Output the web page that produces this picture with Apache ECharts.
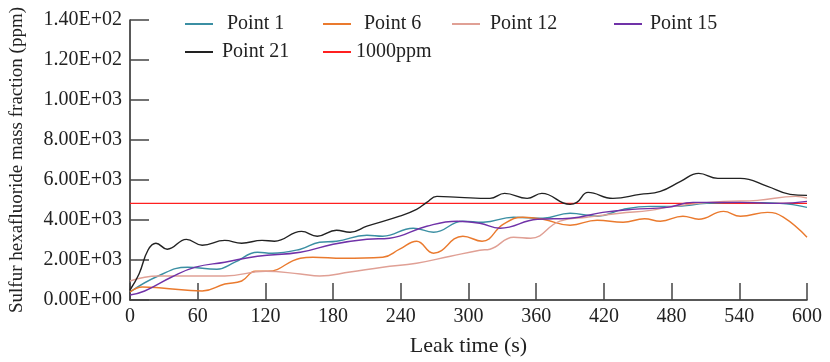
<!DOCTYPE html>
<html><head><meta charset="utf-8">
<script src="https://cdn.jsdelivr.net/npm/echarts@6/dist/echarts.min.js"></script>
<style>html,body{margin:0;padding:0;background:#fff}#c{width:830px;height:362px}</style>
</head><body><div id="c"></div>
<script>
const yTickLabels = ['0.00E+00','2.00E+03','4.00E+03','6.00E+03','8.00E+03','1.00E+03','1.20E+02','1.40E+02'];
const seriesNames = ['Point 1','Point 6','Point 12','Point 15','Point 21','1000ppm'];
const point1 = [[0,0.4],[25,1.2],[51,1.64],[77,1.54],[93,1.89],[113,2.39],[126,2.34],[151,2.54],[168,2.89],[183,2.94],[210,3.24],[224,3.19],[251,3.59],[269,3.39],[295,3.94],[313,3.89],[340,4.14],[366,4.09],[390,4.34],[414,4.19],[437,4.53],[461,4.68],[481,4.68],[511,4.83],[541,4.88],[576,4.83],[600,4.63]];
const point6 = [[0,0.4],[11,0.65],[28,0.6],[64,0.45],[84,0.8],[99,0.95],[111,1.44],[122,1.44],[151,2.09],[162,2.14],[189,2.09],[224,2.14],[239,2.54],[254,2.94],[269,2.34],[295,3.19],[312,2.94],[331,3.79],[348,4.14],[366,4.04],[390,3.74],[414,3.99],[437,3.89],[456,4.06],[470,3.94],[490,4.19],[504,4.04],[526,4.43],[541,4.19],[565,4.38],[579,4.14],[600,3.14]];
const point12 = [[0,0.95],[25,1.2],[55,1.2],[84,1.2],[120,1.44],[151,1.3],[168,1.2],[195,1.4],[224,1.64],[254,1.84],[284,2.19],[310,2.49],[319,2.54],[340,3.14],[355,3.09],[381,3.94],[405,4.14],[434,4.34],[461,4.48],[481,4.68],[526,4.93],[556,4.98],[590,5.18],[600,5.1]];
const point15 = [[0,0.25],[13,0.45],[37,1.15],[58,1.64],[84,1.89],[113,2.19],[151,2.39],[180,2.79],[210,3.04],[230,3.09],[263,3.69],[290,3.94],[310,3.84],[328,3.59],[361,4.04],[390,4.09],[419,4.38],[445,4.53],[476,4.63],[499,4.88],[541,4.88],[576,4.83],[600,4.93]];
const point21 = [[0,0.5],[8,1.3],[16,2.5],[23,2.84],[33,2.54],[50,3.03],[64,2.74],[84,2.98],[99,2.84],[117,2.98],[128,2.94],[152,3.43],[166,3.19],[183,3.49],[195,3.39],[210,3.69],[239,4.19],[254,4.53],[263,4.88],[272,5.18],[292,5.13],[319,5.08],[332,5.33],[352,5.08],[365,5.33],[390,4.78],[396,4.88],[406,5.38],[428,5.08],[452,5.28],[470,5.43],[488,5.93],[504,6.33],[521,6.08],[541,6.08],[565,5.68],[585,5.28],[600,5.23]];
const limit1000 = [[0,4.83],[600,4.83]];
const colors = ['#3b8fa3','#ea7a2e','#e0a095','#7032a8','#222222','#ff2020'];
const allData = [point1, point6, point12, point15, point21, limit1000];
const font = 'Liberation Serif, Times New Roman, serif';

const chart = echarts.init(document.getElementById('c'));
const legendPos = [[180,9,9],[318,9,8],[447,9,5],[609,9,3],[180,37,4],[318,37,0]];
const legends = seriesNames.map((n,i)=>({
  data:[n], left:legendPos[i][0], top:legendPos[i][1], itemWidth:28, itemHeight:2, icon:'rect',
  textStyle:{fontFamily:font,fontSize:20,color:'#222',padding:[0,0,0,legendPos[i][2]]}, selectedMode:false
}));
chart.setOption({
  animation:false,
  color:colors,
  legend:legends,
  grid:{left:130,right:23,top:20,bottom:61},
  xAxis:{type:'value',min:0,max:600,interval:60,
    name:'Leak time (s)',nameLocation:'middle',nameGap:35,
    nameTextStyle:{fontFamily:font,fontSize:22,color:'#222'},
    axisLine:{lineStyle:{color:'#222',width:1.5}},
    axisTick:{inside:true,length:17,lineStyle:{color:'#444',width:1.5}},
    axisLabel:{fontFamily:font,fontSize:20,color:'#222',margin:7},
    splitLine:{show:false}},
  yAxis:{type:'value',min:0,max:14,interval:2,
    name:'Sulfur hexafluoride mass fraction (ppm)',nameLocation:'middle',nameGap:103,
    nameTextStyle:{fontFamily:font,fontSize:19,color:'#222'},
    axisLine:{show:true,lineStyle:{color:'#222',width:1.5}},
    axisTick:{show:true,inside:true,length:19,lineStyle:{color:'#444',width:1.5}},
    axisLabel:{fontFamily:font,fontSize:20,color:'#222',margin:8,
      formatter:v=>yTickLabels[Math.round(v/2)]},
    splitLine:{show:false}},
  series:seriesNames.map((n,i)=>({
    name:n,type:'line',data:allData[i],smooth:i===5?false:0.45,showSymbol:false,
    lineStyle:{width:1.4,color:colors[i]},itemStyle:{color:colors[i]},z:i===5?1:2
  }))
});
</script></body></html>
